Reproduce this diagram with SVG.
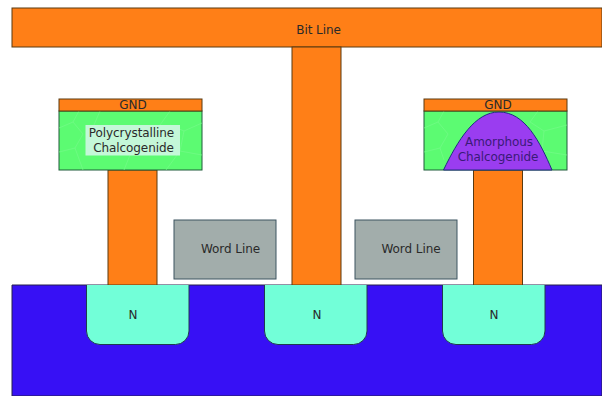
<svg xmlns="http://www.w3.org/2000/svg" width="602" height="396" viewBox="0 0 602 396">
<style>
.o{fill:#ff7f17;stroke:#5a3a10;stroke-width:1}
.g{fill:#5cfb72;stroke:#1f5a3a;stroke-width:1}
.w{fill:#a2adab;stroke:#3c5560;stroke-width:1}
.n{fill:#72ffd8;stroke:#1f3a50;stroke-width:1}
.p{fill:#9a3df0;stroke:#1f2f80;stroke-width:1}
.c{fill:none;stroke:#74fb88;stroke-width:.7}
text{font-family:"DejaVu Sans",sans-serif;font-size:12px;fill:#2a2a2a;text-anchor:middle;letter-spacing:-.08px}
.a{fill:#3a1a78}
</style>
<rect width="602" height="396" fill="#fff"/>
<g id="substrate"><path d="M602 285H12V396H602Z" fill="#3710f5" stroke="#26204a" stroke-width="1"/></g>
<g id="bit-line"><rect class="o" x="12" y="8" width="590" height="39"/><text x="318.500" y="34">Bit Line</text></g>
<g id="bit-stem"><rect class="o" x="292" y="47" width="49" height="238"/></g>
<g id="stem-left"><rect class="o" x="108" y="170" width="49" height="115"/></g>
<g id="stem-right"><rect class="o" x="473.500" y="170" width="49" height="115"/></g>
<g id="cell-left">
<rect class="g" x="59" y="111" width="143" height="59"/>
<path class="c" d="M59 128l14-6 6-11M73 122l10 12-8 14-16 4M75 148l8 22M100 111l-6 14M160 125l10-14M170 125l14 6 18-8M184 131l-4 20 22 4M180 151l-14 19M130 155l-6 15"/>
<rect x="85.500" y="125" width="94.500" height="30.500" fill="#c4f7d8"/>
<text x="131.500" y="136.500">Polycrystalline</text><text x="133.500" y="151.500">Chalcogenide</text>
</g>
<g id="gnd-left"><rect class="o" x="59" y="99" width="143" height="12"/><text x="133" y="109">GND</text></g>
<g id="cell-right">
<rect class="g" x="424" y="111" width="143" height="59"/>
<path class="c" d="M424 128l14-6 6-11M438 122l10 12-8 14-16 4M440 148l4 12M530 122l8-11M530 122l14 9 23-6M544 131l-2 20 25 4M542 151l-4 5"/>
<path class="p" d="M443.500 170C458 140 475 112 499 112C525 112 540 142 552 170Z"/>
<text class="a" x="499" y="146">Amorphous</text><text class="a" x="498" y="161">Chalcogenide</text>
</g>
<g id="gnd-right"><rect class="o" x="424" y="99" width="143" height="12"/><text x="498" y="109">GND</text></g>
<g id="word-line-left"><rect class="w" x="174" y="220" width="102" height="59"/><text x="230.500" y="253">Word Line</text></g>
<g id="word-line-right"><rect class="w" x="355" y="220" width="102" height="59"/><text x="411" y="253">Word Line</text></g>
<g id="n-left"><path class="n" d="M86.500 285V331A13.500 13.500 0 0 0 100 344.500H175.500A13.500 13.500 0 0 0 189 331V285"/><text x="133" y="319">N</text></g>
<g id="n-mid"><path class="n" d="M264.500 285V331A13.500 13.500 0 0 0 278 344.500H353.500A13.500 13.500 0 0 0 367 331V285"/><text x="317" y="319">N</text></g>
<g id="n-right"><path class="n" d="M442.500 285V331A13.500 13.500 0 0 0 456 344.500H531.500A13.500 13.500 0 0 0 545 331V285"/><text x="494" y="319">N</text></g>
<g id="connectors"/>
</svg>
